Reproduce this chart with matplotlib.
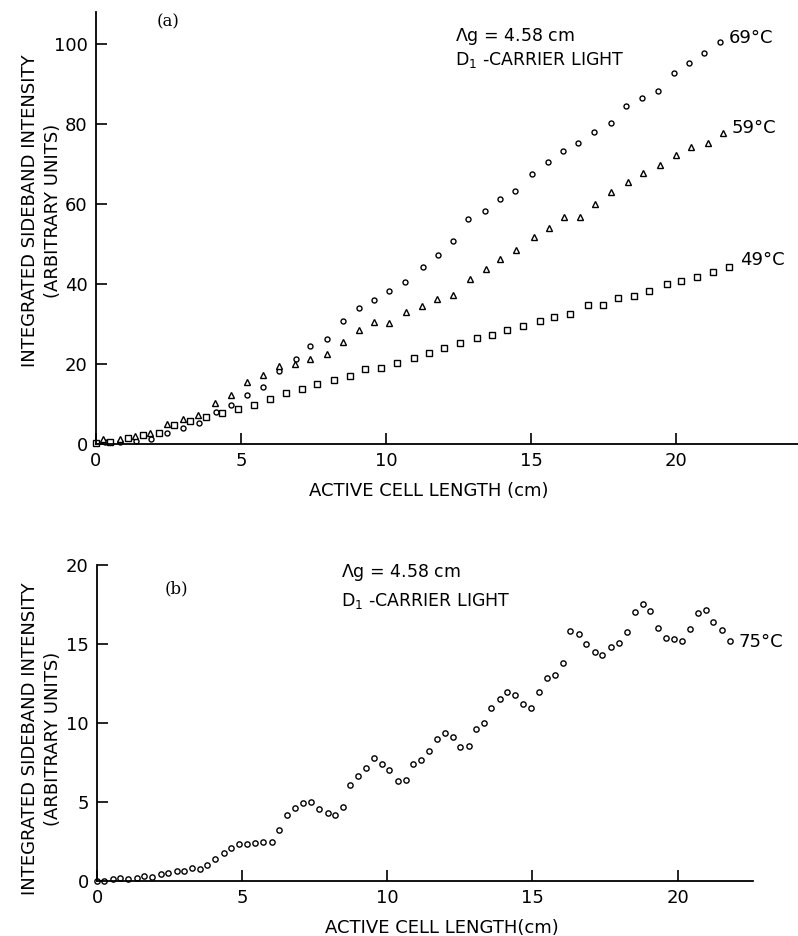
import matplotlib.pyplot as plt

# (a) integrated sideband intensity vs active cell length, three temperatures
x69 = [0.3, 0.83, 1.37, 1.9, 2.45, 3.0, 3.55, 4.13, 4.67, 5.21, 5.76, 6.30, 6.88, 7.37,
       7.95, 8.51, 9.06, 9.57, 10.11, 10.66, 11.27, 11.78, 12.30, 12.84, 13.41, 13.91,
       14.43, 15.02, 15.59, 16.09, 16.63, 17.18, 17.74, 18.28, 18.82, 19.37, 19.91,
       20.45, 20.96, 21.50]
y69 = [0.5, 0.4, 0.7, 1.3, 2.8, 3.9, 5.2, 7.9, 9.75, 12.25, 14.3, 18.3, 21.25, 24.5,
       26.3, 30.75, 33.9, 36.0, 38.25, 40.5, 44.25, 47.2, 50.8, 56.3, 58.25, 61.25,
       63.25, 67.4, 70.5, 73.2, 75.25, 78.1, 80.2, 84.5, 86.4, 88.3, 92.7, 95.3, 97.7,
       100.4]

x59 = [0.25, 0.83, 1.34, 1.86, 2.46, 3.01, 3.52, 4.11, 4.65, 5.21, 5.76, 6.30, 6.85,
       7.37, 7.97, 8.51, 9.06, 9.57, 10.11, 10.69, 11.23, 11.76, 12.32, 12.90, 13.43,
       13.93, 14.48, 15.10, 15.63, 16.14, 16.70, 17.21, 17.75, 18.33, 18.87, 19.44,
       19.99, 20.52, 21.09, 21.60]
y59 = [1.2, 1.2, 2.1, 2.8, 5.0, 6.2, 7.2, 10.2, 12.2, 15.6, 17.25, 19.6, 19.9, 21.25,
       22.4, 25.6, 28.5, 30.4, 30.2, 33.1, 34.6, 36.2, 37.25, 41.3, 43.8, 46.2, 48.5,
       51.7, 53.9, 56.8, 56.8, 60.0, 62.9, 65.6, 67.7, 69.75, 72.25, 74.3, 75.2, 77.8]

x49 = [0.0, 0.48, 1.09, 1.63, 2.17, 2.70, 3.24, 3.79, 4.36, 4.90, 5.44, 6.01, 6.54,
       7.11, 7.63, 8.20, 8.74, 9.29, 9.83, 10.37, 10.96, 11.47, 11.99, 12.55, 13.13,
       13.66, 14.16, 14.73, 15.31, 15.80, 16.35, 16.95, 17.49, 18.00, 18.55, 19.05,
       19.68, 20.17, 20.73, 21.27, 21.82]
y49 = [0.3, 0.6, 1.6, 2.3, 2.8, 4.8, 5.7, 6.8, 7.7, 8.75, 9.75, 11.2, 12.8, 13.7, 14.9,
       16.0, 17.1, 18.7, 18.9, 20.2, 21.5, 22.8, 23.9, 25.2, 26.4, 27.25, 28.5, 29.5,
       30.8, 31.8, 32.5, 34.7, 34.75, 36.4, 37.1, 38.3, 39.9, 40.75, 41.7, 43.1, 44.3]

# (b) 75 C run
x75 = [0.0, 0.24, 0.54, 0.79, 1.07, 1.37, 1.62, 1.91, 2.21, 2.46, 2.75, 3.01, 3.28,
       3.55, 3.80, 4.08, 4.36, 4.62, 4.90, 5.17, 5.45, 5.73, 6.02, 6.28, 6.56, 6.82,
       7.09, 7.37, 7.66, 7.94, 8.20, 8.47, 8.72, 9.00, 9.28, 9.53, 9.82, 10.07, 10.36,
       10.63, 10.89, 11.16, 11.42, 11.71, 11.97, 12.25, 12.52, 12.80, 13.07, 13.32,
       13.58, 13.87, 14.13, 14.41, 14.68, 14.96, 15.22, 15.51, 15.77, 16.06, 16.31,
       16.60, 16.83, 17.14, 17.40, 17.69, 17.98, 18.24, 18.52, 18.80, 19.04, 19.33,
       19.61, 19.87, 20.16, 20.42, 20.70, 20.97, 21.23, 21.52, 21.80]
y75 = [0, 0, 0.11, 0.17, 0.13, 0.19, 0.28, 0.25, 0.4, 0.47, 0.62, 0.64, 0.8, 0.76,
       0.97, 1.38, 1.78, 2.05, 2.33, 2.33, 2.41, 2.43, 2.47, 3.21, 4.16, 4.59, 4.94,
       5.01, 4.52, 4.31, 4.16, 4.69, 6.06, 6.62, 7.14, 7.76, 7.38, 7.02, 6.34, 6.38,
       7.39, 7.65, 8.24, 8.96, 9.34, 9.13, 8.45, 8.54, 9.6, 9.97, 10.96, 11.51, 11.98,
       11.77, 11.18, 10.96, 11.94, 12.83, 13.04, 13.78, 15.84, 15.61, 15.0, 14.47,
       14.30, 14.83, 15.04, 15.78, 17.05, 17.51, 17.11, 16.0, 15.36, 15.30, 15.17,
       15.93, 16.95, 17.15, 16.41, 15.89, 15.21]

xticks = [0, 5, 10, 15, 20]
yticks_a = [0, 20, 40, 60, 80, 100]
yticks_b = [0, 5, 10, 15, 20]

plt.rcParams['font.family'] = 'DejaVu Sans'
ylab = 'INTEGRATED SIDEBAND INTENSITY\n(ARBITRARY UNITS)'
xlab = 'ACTIVE CELL LENGTH (cm)'
note1 = '$\\Lambda$g = 4.58 cm'
note2 = 'D$_{\\mathregular{1}}$ -CARRIER LIGHT'

fig = plt.figure(figsize=(7.98, 9.36), dpi=100)
ax1 = fig.add_axes([0.1203, 0.5256, 0.8797, 0.4615])
ax2 = fig.add_axes([0.1216, 0.0591, 0.8221, 0.3373])


def style(ax, xmax, ymax, yticks):
    ax.set_xlim(0, xmax)
    ax.set_ylim(0, ymax)
    for s in ['top', 'right']:
        ax.spines[s].set_visible(False)
    for s in ['left', 'bottom']:
        ax.spines[s].set_linewidth(1.3)
    ax.set_xticks(xticks)
    ax.set_yticks(yticks)
    ax.tick_params(direction='in', length=8, width=1.2, labelsize=13, pad=6)


mk = dict(linestyle='none', mfc='white', mec='black', mew=1.0, clip_on=False)

ax1.plot(x69, y69, 'o', ms=3.6, **mk)
ax1.plot(x59, y59, '^', ms=5.0, **mk)
ax1.plot(x49, y49, 's', ms=4.0, **mk)
style(ax1, 24.2, 108, yticks_a)
ax1.set_xlabel(xlab, fontsize=13)
ax1.xaxis.set_label_coords(0.474, -0.088)
ax1.set_ylabel(ylab, fontsize=13, linespacing=1.3)
ax1.yaxis.set_label_coords(-0.049, 0.54)
ax1.text(2.1, 105.5, '(a)', family='DejaVu Serif', fontsize=12, va='center')
ax1.text(12.36, 102, note1, fontsize=12.5, va='center')
ax1.text(12.36, 96, note2, fontsize=12.5, va='center')
ax1.text(21.8, 101.5, '69°C', fontsize=13, va='center')
ax1.text(21.9, 79, '59°C', fontsize=13, va='center')
ax1.text(22.2, 46, '49°C', fontsize=13, va='center')

ax2.plot(x75, y75, 'o', ms=3.8, **mk)
style(ax2, 22.6, 20, yticks_b)
ax2.set_xlabel(xlab.replace(' (', '('), fontsize=13)
ax2.xaxis.set_label_coords(0.526, -0.122)
ax2.set_ylabel(ylab, fontsize=13, linespacing=1.3)
ax2.yaxis.set_label_coords(-0.054, 0.45)
ax2.text(2.34, 18.5, '(b)', family='DejaVu Serif', fontsize=12, va='center')
ax2.text(8.4, 19.5, note1, fontsize=12.5, va='center')
ax2.text(8.4, 17.7, note2, fontsize=12.5, va='center')
ax2.text(22.1, 15.1, '75°C', fontsize=13, va='center')

fig.savefig('out.png', dpi=100)
